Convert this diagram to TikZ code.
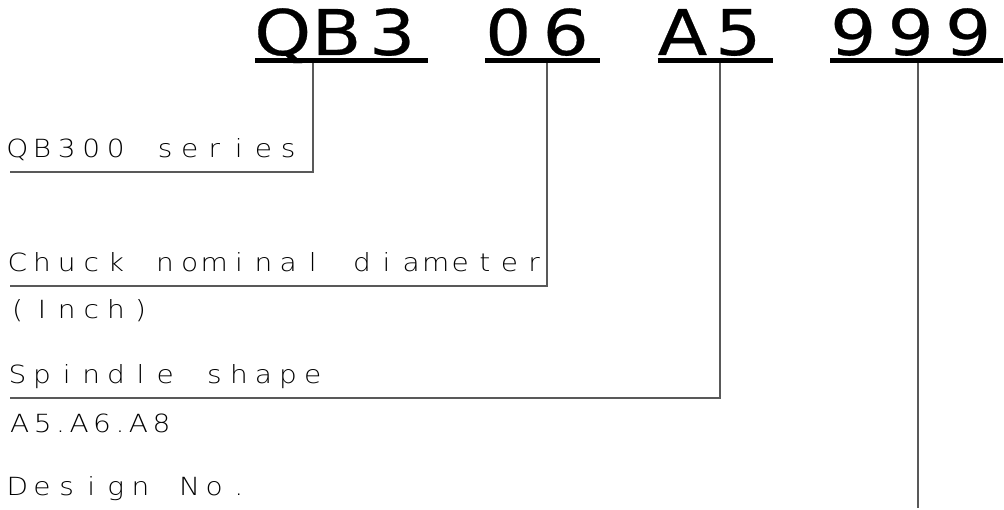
\documentclass[tikz,border=0pt]{standalone}
\usepackage{fontspec}
\newfontfamily\thinfont[FakeStretch=1.12]{DejaVu Sans ExtraLight}
\newfontfamily\thinspaced[FakeStretch=1.12,LetterSpace=18]{DejaVu Sans ExtraLight}
\newfontfamily\codefont[FakeStretch=1.15,FakeBold=0.4]{DejaVu Sans}
\makeatletter
\newcommand\cells[2]{\@tfor\cellch:=#2\do{\makebox[#1][c]{\cellch}}}
\newcommand\codecells[2]{\@tfor\cellch:=#2\do{\makebox[#1][l]{\cellch}}}
\makeatother
\begin{document}
\begin{tikzpicture}[x=1pt,y=-1pt,
  lbl/.style={anchor=base west, inner sep=0pt, font=\thinfont\fontsize{25}{25}\selectfont},
  lblsp/.style={anchor=base west, inner sep=0pt, font=\thinspaced\fontsize{25}{25}\selectfont},
  code/.style={anchor=base west, inner sep=0pt, font=\codefont\fontsize{63}{63}\selectfont},
  lead/.style={draw=black!65, line width=1.5pt},
  uline/.style={draw=black, line width=5pt}]
\useasboundingbox (0,0) rectangle (1004,510);
% top code
\node[code] (cq) at (254,55) {\codecells{57.5pt}{QB3}};
\node[code] (cn) at (485,55) {\codecells{57.5pt}{06}};
\node[code] (ca) at (657.5,55) {\codecells{57.5pt}{A5}};
\node[code] (cd) at (830,55) {\codecells{57.5pt}{999}};
\draw[uline] (255,60.5) -- (427.5,60.5);
\draw[uline] (485,60.5) -- (600,60.5);
\draw[uline] (657.5,60.5) -- (772.5,60.5);
\draw[uline] (830,60.5) -- (1002.5,60.5);
% labels
\node[lbl] (l1) at (5,158) {\cells{24.6pt}{QB300~series}};
\node[lbl] (l2) at (5,272) {\cells{24.6pt}{Chuck~nominal~diameter}};
\node[lbl] (l2b) at (5,319) {\cells{24.6pt}{(Inch)}};
\node[lbl] (l3) at (5,384) {\cells{24.6pt}{Spindle~shape}};
\node[lblsp] (l3b) at (10,432) {A5.A6.A8};
\node[lbl] (l4) at (5,495) {\cells{24.6pt}{Design~No.}};
% leaders
\coordinate (q1) at (313,63);
\coordinate (q2) at (547,63);
\coordinate (q3) at (720,63);
\coordinate (q4) at (918,63);
\coordinate (e1) at (10,172);
\coordinate (e2) at (10,286);
\coordinate (e3) at (10,398);
\coordinate (e4) at (918,508);
\draw[lead] (q1) |- (e1);
\draw[lead] (q2) |- (e2);
\draw[lead] (q3) |- (e3);
\draw[lead] (q4) -- (e4);
\end{tikzpicture}
\end{document}
